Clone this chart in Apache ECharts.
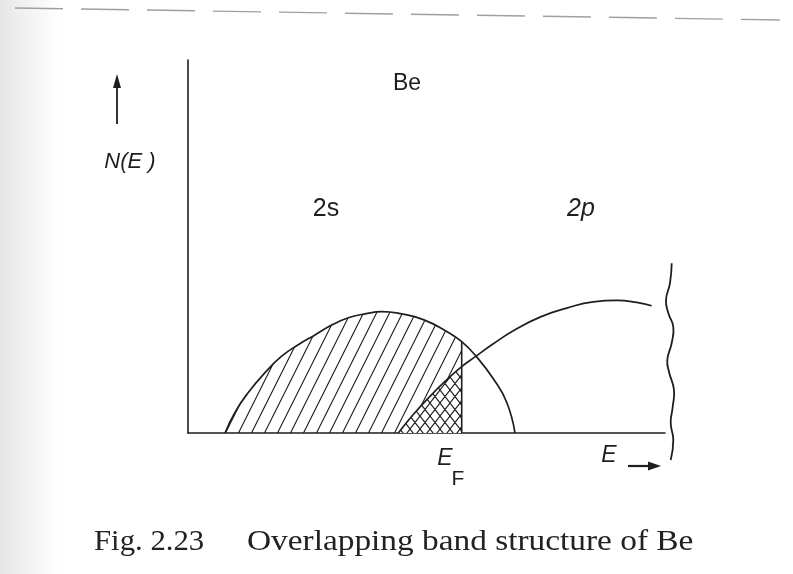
<!DOCTYPE html>
<html>
<head>
<meta charset="utf-8">
<script src="https://cdn.jsdelivr.net/npm/echarts@6/dist/echarts.min.js"></script>
<style>
  html, body { margin: 0; padding: 0; background: #fff; }
  #chart { width: 793px; height: 574px; }
</style>
</head>
<body>
<div id="chart"></div>
<script>
// Density of states N(E) for the 2s and 2p bands of beryllium (arbitrary units)
const energy2s = [7.76, 9.85, 12.64, 16.14, 19.64, 23.12, 26.62, 30.13, 33.61, 37.11, 40.61, 44.44, 49.33, 54.23, 57.38, 60.52, 64.01, 66.81, 68.55];
const dos2s    = [0,    5.55, 10.86, 16.17, 20.59, 23.67, 26.30, 28.93, 30.91, 31.93, 32.52, 32.01, 30.40, 27.21, 24.48, 20.40, 14.53, 8.23,  0];
const energy2p = [44.09, 47.23, 50.73, 54.23, 57.38, 60.17, 64.01, 68.20, 73.79, 79.39, 84.97, 89.88, 94.07, 97.21];
const dos2p    = [0,     4.96,  9.84,  14.24, 17.78, 20.40, 23.91, 27.40, 31.07, 33.49, 35.17, 35.55, 35.01, 34.10];
const fermiEnergy = 57.38;
const fermiDos2s = 24.48;

const ink = '#1e1e1e';

function pairs(xs, ys) { return xs.map((x, i) => [x, ys[i]]); }
const band2s = pairs(energy2s, dos2s);
const band2p = pairs(energy2p, dos2p);
const filled2s = band2s.filter(p => p[0] <= fermiEnergy);
const filled2p = band2p.filter(p => p[0] <= fermiEnergy);

// Repeating hatch tile: one steep diagonal, optionally crossed
function hatchTile(w, h, cross, opaque) {
  const c = document.createElement('canvas');
  c.width = w; c.height = h;
  const g = c.getContext('2d');
  if (opaque) { g.fillStyle = '#fff'; g.fillRect(0, 0, w, h); }
  g.strokeStyle = ink;
  g.lineWidth = 1.1;
  g.beginPath();
  g.moveTo(-w, 2 * h); g.lineTo(2 * w, -h);
  g.moveTo(-2 * w, 2 * h); g.lineTo(w, -h);
  g.moveTo(0, 2 * h); g.lineTo(3 * w, -h);
  if (cross) {
    g.moveTo(-w, -h); g.lineTo(2 * w, 2 * h);
    g.moveTo(-2 * w, -h); g.lineTo(w, 2 * h);
    g.moveTo(0, -h); g.lineTo(3 * w, 2 * h);
  }
  g.stroke();
  return c;
}

const chart = echarts.init(document.getElementById('chart'), null, { renderer: 'canvas' });

const plainAxis = {
  type: 'value', min: 0, max: 100,
  axisLine: { show: true, lineStyle: { color: ink, width: 1.6 } },
  axisTick: { show: false }, axisLabel: { show: false }, splitLine: { show: false }
};

// Wavy brace on the right
const bracePts = [[671.7,263.3],[670,283],[666,300],[668.3,313],[673.3,327],[671.7,343],[667.3,360],[669.3,373],[674,390],[672.7,407],[670.7,423],[673.3,440],[670.7,460]];

const labelFont = '"Liberation Sans"';
const curve = { smooth: 0.5, symbol: 'none', type: 'line' };

chart.setOption({
  animation: false,
  backgroundColor: '#fff',
  grid: { left: 188, right: 128, top: 60, bottom: 141 },
  xAxis: Object.assign({}, plainAxis),
  yAxis: Object.assign({}, plainAxis),
  series: [
    Object.assign({}, curve, {
      name: '2s filled', data: filled2s,
      lineStyle: { width: 0 },
      areaStyle: { color: { image: hatchTile(13, 26, false, false), repeat: 'repeat' }, opacity: 1 },
      z: 2
    }),
    Object.assign({}, curve, {
      name: '2p filled', data: filled2p,
      lineStyle: { width: 0 },
      areaStyle: { color: { image: hatchTile(10, 13, true, true), repeat: 'repeat' }, opacity: 1 },
      z: 3
    }),
    Object.assign({}, curve, {
      name: '2s', data: band2s,
      lineStyle: { color: ink, width: 1.7 }, z: 4
    }),
    Object.assign({}, curve, {
      name: '2p', data: band2p,
      lineStyle: { color: ink, width: 1.7 }, z: 4
    }),
    {
      name: 'EF', type: 'line', data: [[fermiEnergy, 0], [fermiEnergy, fermiDos2s]], symbol: 'none',
      lineStyle: { color: ink, width: 1.6 }, z: 4
    }
  ],
  graphic: [
    // scan shading on the left margin
    { type: 'rect', shape: { x: 0, y: 0, width: 60, height: 574 }, z: -1,
      style: { fill: { type: 'linear', x: 0, y: 0, x2: 1, y2: 0,
        colorStops: [{ offset: 0, color: '#e6e6e6' }, { offset: 0.5, color: '#f3f3f3' }, { offset: 1, color: '#ffffff' }] } } },
    // faint rule along the top
    { type: 'line', shape: { x1: 15, y1: 8, x2: 780, y2: 20 }, z: 0,
      style: { stroke: '#a0a0a0', lineWidth: 1.4, lineDash: [48, 18] } },
    // N(E) arrow
    { type: 'line', shape: { x1: 117, y1: 124, x2: 117, y2: 82 }, style: { stroke: ink, lineWidth: 1.8 } },
    { type: 'polygon', shape: { points: [[117, 74], [113, 88], [121, 88]] }, style: { fill: ink } },
    { type: 'text', x: 130, y: 162, style: { text: 'N(E )', font: 'italic 22px ' + labelFont, fill: ink, align: 'center', verticalAlign: 'middle' } },
    { type: 'text', x: 407, y: 84, style: { text: 'Be', font: '23px ' + labelFont, fill: ink, align: 'center', verticalAlign: 'middle' } },
    { type: 'text', x: 326, y: 209, style: { text: '2s', font: '25px ' + labelFont, fill: ink, align: 'center', verticalAlign: 'middle' } },
    { type: 'text', x: 581, y: 209, style: { text: '2p', font: 'italic 25px ' + labelFont, fill: ink, align: 'center', verticalAlign: 'middle' } },
    // E_F label
    { type: 'text', x: 445, y: 459, style: { text: 'E', font: 'italic 23px ' + labelFont, fill: ink, align: 'center', verticalAlign: 'middle' } },
    { type: 'text', x: 458, y: 479, style: { text: 'F', font: '21px ' + labelFont, fill: ink, align: 'center', verticalAlign: 'middle' } },
    // E axis label with arrow
    { type: 'text', x: 609, y: 456, style: { text: 'E', font: 'italic 23px ' + labelFont, fill: ink, align: 'center', verticalAlign: 'middle' } },
    { type: 'line', shape: { x1: 628, y1: 466, x2: 650, y2: 466 }, style: { stroke: ink, lineWidth: 2.2 } },
    { type: 'polygon', shape: { points: [[661, 466], [648, 461.5], [648, 470.5]] }, style: { fill: ink } },
    // wavy brace
    { type: 'polyline', shape: { points: bracePts, smooth: 0.5 }, style: { stroke: ink, lineWidth: 1.8, fill: null } },
    // caption
    { type: 'text', x: 94, y: 542, scaleX: 1.06, style: { text: 'Fig. 2.23', font: '29px "Liberation Serif"', fill: '#222', verticalAlign: 'middle' } },
    { type: 'text', x: 247, y: 542, scaleX: 1.15, style: { text: 'Overlapping band structure of Be', font: '29px "Liberation Serif"', fill: '#222', verticalAlign: 'middle' } }
  ]
});
</script>
</body>
</html>
